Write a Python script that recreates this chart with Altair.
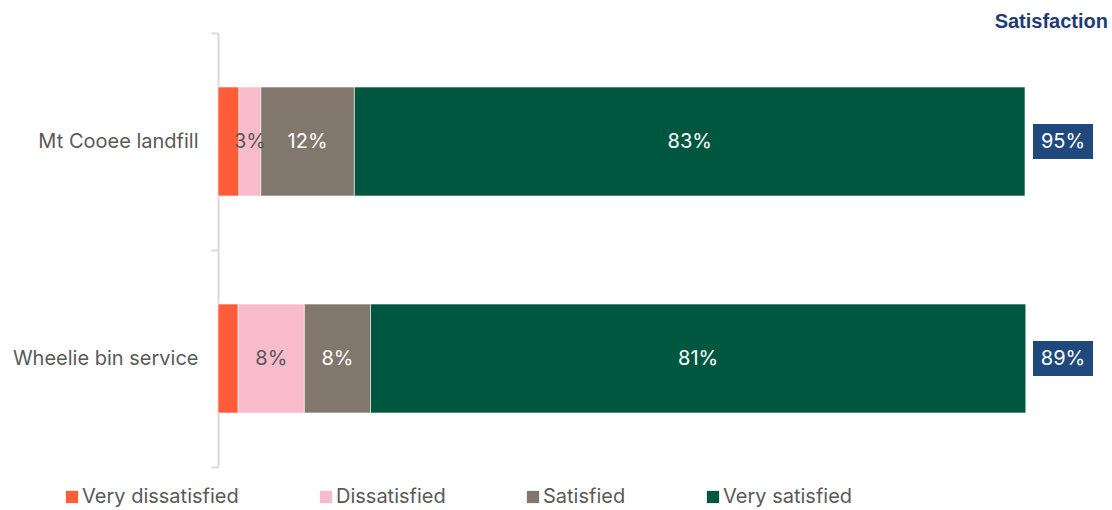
import altair as alt
import pandas as pd

items = ["Mt Cooee landfill", "Wheelie bin service"]
categories = ["Very dissatisfied", "Dissatisfied", "Satisfied", "Very satisfied"]
colors = ["#FF5C39", "#F8BBCB", "#82776D", "#00573F"]
very_dissatisfied = [2.6, 2.5]
dissatisfied = [2.7, 8.2]
satisfied = [11.6, 8.2]
very_satisfied = [83.1, 81.2]
satisfaction_totals = ["95%", "89%"]

rows = []
for i, item in enumerate(items):
    for k, (cat, vals) in enumerate(zip(categories, [very_dissatisfied, dissatisfied, satisfied, very_satisfied])):
        rows.append({"item": item, "category": cat, "order": k, "value": vals[i],
                     "label": f"{round(vals[i])}%"})
df = pd.DataFrame(rows)
tot_df = pd.DataFrame({"item": items, "total": satisfaction_totals})

FONT = "Inter"
GREY = "#595959"
FS = 20

yenc = alt.Y("item:N", sort=items, title=None,
             scale=alt.Scale(paddingInner=0, paddingOuter=0),
             axis=alt.Axis(labels=True, labelFontSize=FS, labelColor=GREY, labelFont=FONT,
                           labelPadding=13, tickBand="extent", ticks=True, tickSize=7,
                           tickColor="#D9D9D9", domainColor="#D9D9D9", domainWidth=2,
                           tickWidth=2, grid=False, labelLimit=300))

base = alt.Chart(df)

bars = base.mark_bar(size=109, stroke="white", strokeWidth=0.6).encode(
    x=alt.X("value:Q", stack="zero", scale=alt.Scale(domain=[0, 100]), axis=None),
    y=yenc,
    color=alt.Color("category:N", sort=categories,
                    scale=alt.Scale(domain=categories, range=colors),
                    legend=alt.Legend(title=None, orient="none", legendX=-156, legendY=454,
                                      direction="horizontal", columns=4, symbolType="square",
                                      symbolSize=150, symbolStrokeWidth=0, labelFontSize=FS,
                                      labelFont=FONT, labelColor=GREY, columnPadding=77,
                                      labelOffset=0, labelLimit=300)),
    order=alt.Order("order:Q"),
)

stacked = base.transform_stack(
    stack="value", as_=["x0", "x1"], groupby=["item"], sort=[alt.SortField("order")]
).transform_calculate(mid="(datum.x0 + datum.x1) / 2")

dark_text = stacked.transform_filter("datum.category == 'Dissatisfied'").mark_text(
    fontSize=FS, font=FONT, color=GREY
).encode(x="mid:Q", y=alt.Y("item:N", sort=items), text="label:N")

light_text = stacked.transform_filter(
    "datum.category == 'Satisfied' || datum.category == 'Very satisfied'"
).mark_text(fontSize=FS, font=FONT, color="white").encode(
    x="mid:Q", y=alt.Y("item:N", sort=items), text="label:N")

boxes = alt.Chart(tot_df).mark_bar(size=35, color="#1F497D").encode(
    x=alt.value(815), x2=alt.value(875), y=alt.Y("item:N", sort=items))
box_text = alt.Chart(tot_df).mark_text(fontSize=FS, font=FONT, color="white").encode(
    x=alt.value(845), y=alt.Y("item:N", sort=items), text="total:N")

title = alt.Chart(tot_df.head(1)).mark_text(
    fontSize=20, font="Liberation Sans", fontWeight="bold", color="#1F3B73", align="right"
).encode(x=alt.value(890), y=alt.value(-11), text=alt.value("Satisfaction"))

chart = alt.layer(bars, dark_text, light_text, boxes, box_text, title).properties(
    width=807, height=434,
    autosize=alt.AutoSizeParams(type="none"),
    padding={"left": 218, "top": 33, "right": 87, "bottom": 43},
).configure_view(stroke=None)

chart.save("out.html", embed_options={"renderer": "svg", "actions": False})
